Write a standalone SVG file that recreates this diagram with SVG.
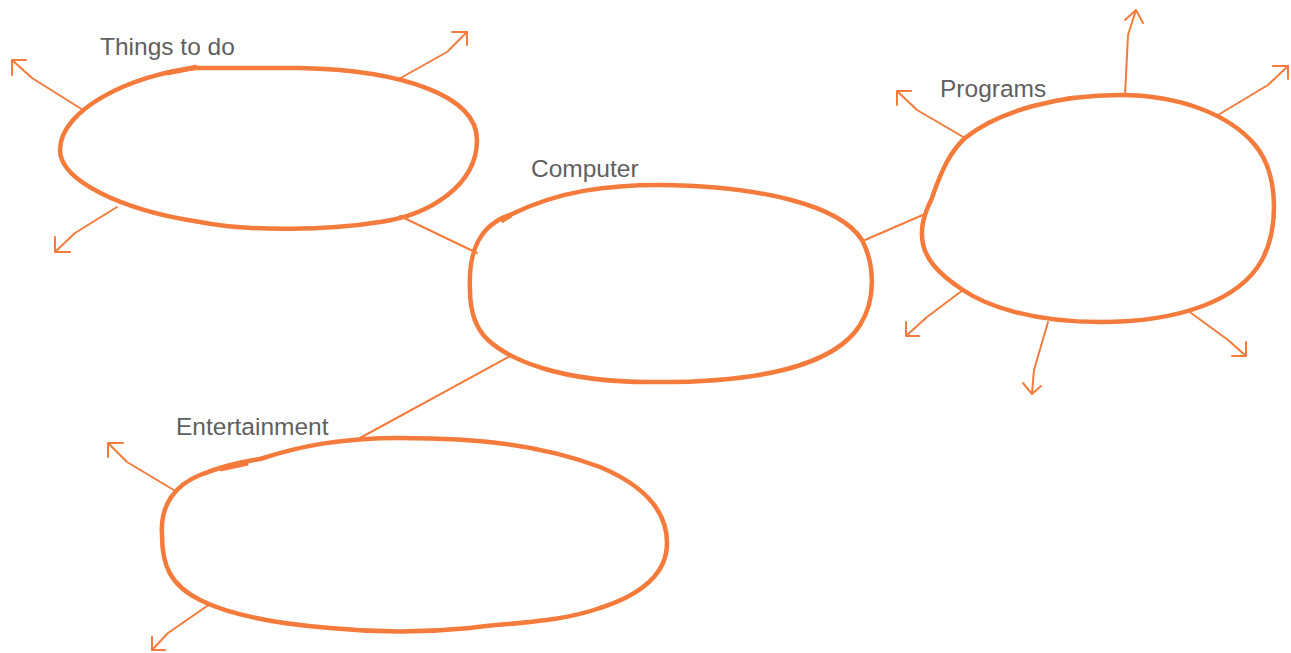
<svg xmlns="http://www.w3.org/2000/svg" width="1291" height="653" viewBox="0 0 1291 653">
<style>
.node{fill:none;stroke:#F47B3B;stroke-width:4.5;stroke-linecap:round;stroke-linejoin:round}
.tick{fill:none;stroke:#F47B3B;stroke-width:5;stroke-linecap:butt}
.conn{fill:none;stroke:#F47B3B;stroke-width:2;stroke-linecap:round;stroke-linejoin:round}
.lbl{font-family:"Liberation Sans",Arial,sans-serif;font-size:24.5px;fill:#606060}
</style>
<rect width="1291" height="653" fill="#ffffff"/>
<g id="connectors">
<path class="conn" d="M400,216 L477,253"/>
<path class="conn" d="M865,240 L925,214"/>
<path class="conn" d="M512,355 L360,438"/>
</g>
<g id="things-to-do">
<path class="node" d="M60,150 C60,110 130,75 195,68 L300,68 C400,70 477,95 477,140 C477,185 430,215 380,222 C330,230 250,232 200,222 C120,210 60,180 60,150 Z"/>
<path class="tick" d="M167,73 L197,67"/>
<text class="lbl" x="100" y="55">Things to do</text>
<path class="conn" d="M83,110 L32,78 L12,60 M26,60 L12,60 L12,75"/>
<path class="conn" d="M397,80 L447,52 L467,32 M452,32 L467,32 L467,45"/>
<path class="conn" d="M117,207 L75,233 L55,252 M55,237 L55,252 L70,252"/>
</g>
<g id="computer">
<path class="node" d="M470,290 C468,250 480,225 510,215 C560,190 610,185 660,185 C760,186 840,205 862,240 C875,265 876,300 860,325 C835,365 760,383 650,382 C560,382 510,360 488,340 C472,325 470,305 470,290 Z"/>
<path class="tick" d="M501,221 L511,215"/>
<text class="lbl" x="531" y="177">Computer</text>
</g>
<g id="programs">
<path class="node" d="M922,235 C921,222 926,210 932,198 L934,192 C942,170 950,152 965,138 C1000,110 1060,95 1120,95 C1180,95 1230,115 1255,145 C1280,175 1278,230 1262,260 C1240,300 1180,322 1100,322 C1030,322 985,305 963,290 C940,275 922,258 922,235 Z"/>
<text class="lbl" x="940" y="97">Programs</text>
<path class="conn" d="M1125,95 L1128,35 L1136,10 M1125,20 L1136,10 L1143,23"/>
<path class="conn" d="M1218,115 L1268,85 L1288,66 M1273,66 L1288,66 L1288,79"/>
<path class="conn" d="M965,138 L917,110 L897,91 M911,91 L897,91 L897,105"/>
<path class="conn" d="M963,290 L927,317 L906,336 M906,322 L906,336 L919,336"/>
<path class="conn" d="M1048,322 L1034,370 L1032,393 M1023,383 L1032,394 L1041,386"/>
<path class="conn" d="M1187,310 L1228,340 L1246,356 M1232,356 L1246,356 L1246,342"/>
</g>
<g id="entertainment">
<path class="node" d="M162,535 C160,505 175,485 200,475 C220,467 240,462 260,459 C300,446 340,438 400,438 C480,438 540,445 600,467 C650,488 667,515 667,543 C667,575 640,595 600,608 C560,622 520,622 470,628 C430,632 380,633 330,628 C280,624 230,615 200,600 C170,585 162,565 162,535 Z"/>
<path class="tick" d="M220,469 L248,463"/>
<text class="lbl" x="176" y="435">Entertainment</text>
<path class="conn" d="M177,492 L127,462 L108,443 M123,443 L108,443 L108,457"/>
<path class="conn" d="M210,604 L168,633 L152,650 M152,637 L152,650 L165,650"/>
</g>
</svg>
